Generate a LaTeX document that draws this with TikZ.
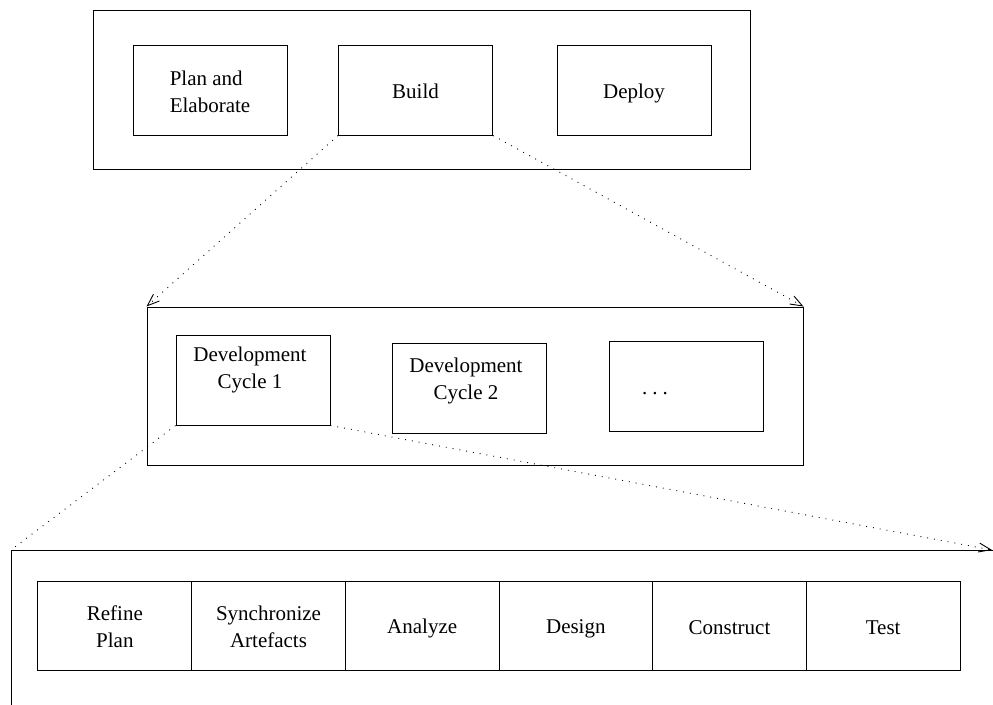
\documentclass[tikz,border=0pt]{standalone}
\usepackage{fontspec}
\setmainfont{Liberation Serif}
\usetikzlibrary{arrows.meta}
% line strut that keeps every label at the same baseline offset
\newcommand\ls{\rule[-3.6pt]{0pt}{24.6pt}}
\begin{document}
\begin{tikzpicture}[x=1pt,y=-1pt,
  lbl/.style={font=\fontsize{21}{27}\selectfont, inner sep=0pt},
  box/.style={draw, line width=1pt, minimum width=154pt, minimum height=90pt,
    inner sep=0pt, lbl, align=center},
  cell/.style={box, minimum width=153.67pt, minimum height=89pt},
  frame/.style={draw, line width=1pt, inner sep=0pt},
  zoomline/.style={line width=0.9pt, dash pattern=on 0.9pt off 6pt},
  zoomarrow/.style={zoomline, -{Straight Barb[length=12pt,width=9pt,line width=0.9pt]}}]
\useasboundingbox (0,0) rectangle (993,704);

% phases
\node[frame, minimum width=657pt, minimum height=159pt] (phases) at (421.5,89.5) {};
\node[box, align=left] (plan) at (210,90) {\ls Plan and\\\ls Elaborate};
\node[box] (build) at (415.5,90) {\ls Build};
\node[box] (deploy) at (634,90) {\ls Deploy};

% development cycles
\node[frame, minimum width=656pt, minimum height=158pt] (cycles) at (475,386) {};
\node[box] (dc1) at (253,380) {};
\node[lbl, align=center] (dc1t) at (250,367) {\ls Development\\\ls Cycle 1};
\node[box] (dc2) at (469,388) {};
\node[lbl, align=center] (dc2t) at (466,378) {\ls Development\\\ls Cycle 2};
\node[box] (more) at (686.5,386) {};
\node[lbl] (moret) at (655,386) {\ls .\hspace{5pt}.\hspace{5pt}.};

% activities of one cycle
\coordinate (fbl) at (11,710);
\coordinate (ftl) at (11,550);
\coordinate (ftr) at (993,550);
\draw[line width=1pt] (fbl) -- (ftl) -- (ftr);
\node[cell] (a1) at (114.83,625.5) {\ls Refine\\\ls Plan};
\node[cell] (a2) at (268.5,625.5) {\ls Synchronize\\\ls Artefacts};
\node[cell] (a3) at (422.17,625.5) {\ls Analyze};
\node[cell] (a4) at (575.83,625.5) {\ls Design};
\node[cell] (a5) at (729.5,625.5) {\ls Construct};
\node[cell] (a6) at (883.17,625.5) {\ls Test};

% zoom connectors
\coordinate (tipr) at (992,550);
\draw[zoomarrow] (build.south west) -- (cycles.north west);
\draw[zoomarrow] (build.south east) -- (cycles.north east);
\draw[zoomline] (dc1.south west) -- (ftl);
\draw[zoomarrow] (dc1.south east) -- (tipr);
\end{tikzpicture}
\end{document}
